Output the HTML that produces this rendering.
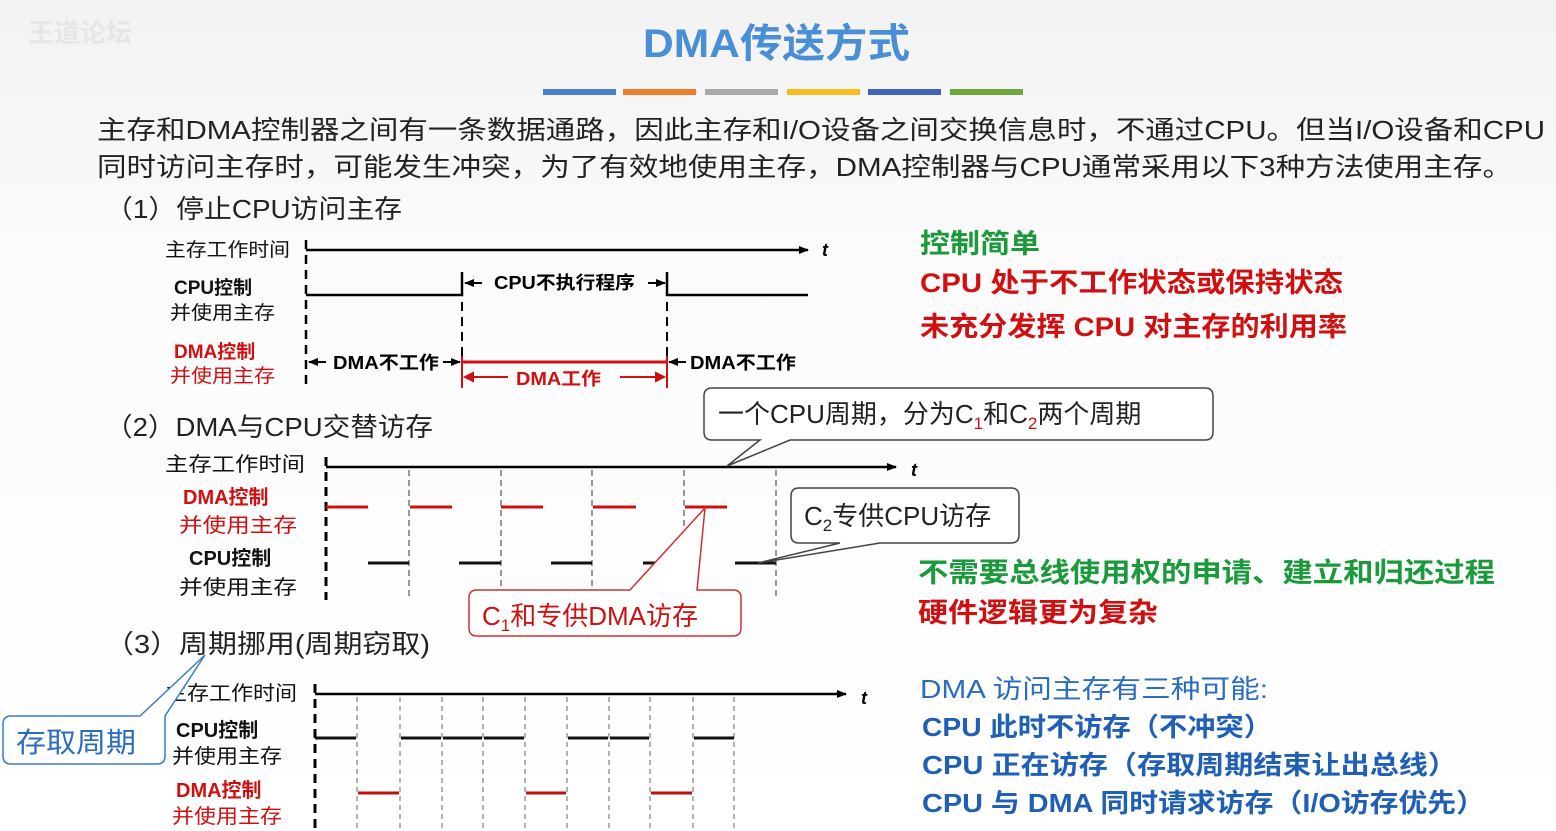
<!DOCTYPE html>
<html><head><meta charset="utf-8"><style>
html,body{margin:0;padding:0;background:#fff}
svg{display:block}
text{font-family:"Liberation Sans","Noto Sans CJK SC",sans-serif}
</style></head><body>
<svg width="1556" height="831" viewBox="0 0 1556 831" xmlns="http://www.w3.org/2000/svg">
<defs>
<linearGradient id="bg" x1="0" y1="0" x2="0" y2="1"><stop offset="0" stop-color="#f2f2f2"/><stop offset="0.3" stop-color="#fbfbfb"/><stop offset="1" stop-color="#ffffff"/></linearGradient>
<marker id="ar" markerWidth="10" markerHeight="8" refX="9" refY="4" orient="auto" markerUnits="userSpaceOnUse"><path d="M0,0 L10,4 L0,8 z" fill="#000"/></marker>
</defs>
<rect width="1556" height="831" fill="url(#bg)"/>
<text x="28" y="42" font-size="26" font-weight="bold" fill="#e6e6e6">王道论坛</text>
<text x="643" y="57" font-size="40" font-weight="bold" fill="#4a8fd6" textLength="267" lengthAdjust="spacingAndGlyphs">DMA传送方式</text>
<g>
<rect x="543" y="89" width="73" height="6" fill="#4a80c8"/>
<rect x="623" y="89" width="73" height="6" fill="#f07b28"/>
<rect x="705" y="89" width="73" height="6" fill="#a9a9a9"/>
<rect x="787" y="89" width="73" height="6" fill="#f5bd1f"/>
<rect x="868" y="89" width="73" height="6" fill="#3c64b8"/>
<rect x="950" y="89" width="73" height="6" fill="#6ca83c"/>
</g>
<text x="97" y="139" font-size="26" fill="#222" textLength="1448" lengthAdjust="spacingAndGlyphs">主存和DMA控制器之间有一条数据通路，因此主存和I/O设备之间交换信息时，不通过CPU。但当I/O设备和CPU</text>
<text x="97" y="176" font-size="26" fill="#222" textLength="1415" lengthAdjust="spacingAndGlyphs">同时访问主存时，可能发生冲突，为了有效地使用主存，DMA控制器与CPU通常采用以下3种方法使用主存。</text>
<text x="105" y="218" font-size="26" fill="#222" textLength="297" lengthAdjust="spacingAndGlyphs">（1）停止CPU访问主存</text>

<!-- diagram 1 -->
<g font-size="19" fill="#111">
<text x="165" y="256" textLength="125" lengthAdjust="spacingAndGlyphs">主存工作时间</text>
<text x="174" y="294" font-weight="bold">CPU控制</text>
<text x="170" y="319" textLength="105" lengthAdjust="spacingAndGlyphs">并使用主存</text>
<text x="174" y="358" font-weight="bold" fill="#d01010">DMA控制</text>
<text x="170" y="382" fill="#d01010" textLength="105" lengthAdjust="spacingAndGlyphs">并使用主存</text>
</g>
<line x1="306" y1="250" x2="808" y2="250" stroke="#000" stroke-width="2.5" marker-end="url(#ar)"/>
<text x="822" y="256" font-size="18" font-style="italic" font-weight="bold">t</text>
<line x1="306" y1="240" x2="306" y2="390" stroke="#000" stroke-width="2.5" stroke-dasharray="9,6"/>
<line x1="462" y1="272" x2="462" y2="390" stroke="#000" stroke-width="2" stroke-dasharray="9,6"/>
<line x1="667" y1="272" x2="667" y2="390" stroke="#000" stroke-width="2" stroke-dasharray="9,6"/>
<path d="M306,295 H462 V272 M667,272 V295 H808" fill="none" stroke="#000" stroke-width="2.5"/>
<line x1="482" y1="283" x2="465" y2="283" stroke="#000" stroke-width="2" marker-end="url(#ar)"/>
<line x1="648" y1="283" x2="665" y2="283" stroke="#000" stroke-width="2" marker-end="url(#ar)"/>
<text x="494" y="289" font-size="18" font-weight="bold" textLength="141" lengthAdjust="spacingAndGlyphs">CPU不执行程序</text>
<line x1="326" y1="362" x2="309" y2="362" stroke="#000" stroke-width="2" marker-end="url(#ar)"/>
<text x="333" y="369" font-size="18" font-weight="bold" textLength="106" lengthAdjust="spacingAndGlyphs">DMA不工作</text>
<line x1="443" y1="362" x2="460" y2="362" stroke="#000" stroke-width="2" marker-end="url(#ar)"/>
<line x1="686" y1="362" x2="669" y2="362" stroke="#000" stroke-width="2" marker-end="url(#ar)"/>
<text x="690" y="369" font-size="18" font-weight="bold" textLength="106" lengthAdjust="spacingAndGlyphs">DMA不工作</text>
<line x1="462" y1="362" x2="667" y2="362" stroke="#d01010" stroke-width="3"/>
<line x1="462" y1="356" x2="462" y2="388" stroke="#d01010" stroke-width="2"/>
<line x1="667" y1="356" x2="667" y2="388" stroke="#d01010" stroke-width="2"/>
<path d="M465,377 H508 M620,377 H664 M465,377 l8,-4 v8 z M664,377 l-8,-4 v8 z" stroke="#d01010" stroke-width="2" fill="#d01010"/>
<text x="516" y="385" font-size="18" font-weight="bold" fill="#d01010" textLength="85" lengthAdjust="spacingAndGlyphs">DMA工作</text>

<g font-size="27" font-weight="bold">
<text x="920" y="253" fill="#1a9a3a" textLength="120" lengthAdjust="spacingAndGlyphs">控制简单</text>
<text x="920" y="292" fill="#d01010" textLength="423" lengthAdjust="spacingAndGlyphs">CPU 处于不工作状态或保持状态</text>
<text x="920" y="336" fill="#d01010" textLength="427" lengthAdjust="spacingAndGlyphs">未充分发挥 CPU 对主存的利用率</text>
</g>

<!-- section 2 -->
<text x="105" y="436" font-size="26" fill="#222" textLength="328" lengthAdjust="spacingAndGlyphs">（2）DMA与CPU交替访存</text>
<g font-size="20" fill="#111">
<text x="165" y="471" textLength="140" lengthAdjust="spacingAndGlyphs">主存工作时间</text>
<text x="183" y="504" font-weight="bold" fill="#d01010">DMA控制</text>
<text x="179" y="532" fill="#d01010" textLength="118" lengthAdjust="spacingAndGlyphs">并使用主存</text>
<text x="189" y="565" font-weight="bold">CPU控制</text>
<text x="179" y="594" textLength="118" lengthAdjust="spacingAndGlyphs">并使用主存</text>
</g>
<line x1="326" y1="467" x2="896" y2="467" stroke="#000" stroke-width="2.5" marker-end="url(#ar)"/>
<text x="911" y="476" font-size="18" font-style="italic" font-weight="bold">t</text>
<line x1="326" y1="457" x2="326" y2="600" stroke="#000" stroke-width="3" stroke-dasharray="9,6"/>
<g stroke="#333" stroke-width="1" stroke-dasharray="6,4">
<line x1="409" y1="470" x2="409" y2="600"/><line x1="501" y1="470" x2="501" y2="600"/><line x1="592" y1="470" x2="592" y2="600"/><line x1="684" y1="470" x2="684" y2="600"/><line x1="776" y1="470" x2="776" y2="600"/>
</g>
<g stroke="#d01010" stroke-width="3">
<line x1="326" y1="507" x2="368" y2="507"/><line x1="410" y1="507" x2="452" y2="507"/><line x1="501" y1="507" x2="543" y2="507"/><line x1="593" y1="507" x2="636" y2="507"/><line x1="685" y1="507" x2="727" y2="507"/>
</g>
<g stroke="#111" stroke-width="3">
<line x1="368" y1="563" x2="409" y2="563"/><line x1="459" y1="563" x2="501" y2="563"/><line x1="551" y1="563" x2="592" y2="563"/><line x1="643" y1="563" x2="684" y2="563"/><line x1="735" y1="563" x2="776" y2="563"/>
</g>
<!-- callout 1 -->
<path d="M712,388 H1205 Q1213,388 1213,396 V432 Q1213,440 1205,440 H790 L727,466 L760,440 H712 Q704,440 704,432 V396 Q704,388 712,388 z" fill="#fff" stroke="#444" stroke-width="1.5"/>
<text x="718" y="423" font-size="26" fill="#222">一个CPU周期，分为C<tspan fill="#d01010" font-size="17" dy="6">1</tspan><tspan dy="-6">和C</tspan><tspan fill="#d01010" font-size="17" dy="6">2</tspan><tspan dy="-6">两个周期</tspan></text>
<!-- callout 2 -->
<path d="M799,488 H1011 Q1019,488 1019,496 V535 Q1019,543 1011,543 H880 L758,563 L840,543 H799 Q791,543 791,535 V496 Q791,488 799,488 z" fill="#fff" stroke="#444" stroke-width="1.5"/>
<text x="804" y="525" font-size="26" fill="#222">C<tspan font-size="17" dy="6">2</tspan><tspan dy="-6">专供CPU访存</tspan></text>
<!-- callout 3 -->
<path d="M477,590 H630 L705,508 L697,590 H733 Q741,590 741,598 V628 Q741,636 733,636 H477 Q469,636 469,628 V598 Q469,590 477,590 z" fill="#fff" stroke="#d03030" stroke-width="1.5"/>
<text x="482" y="625" font-size="26" fill="#d01010">C<tspan font-size="17" dy="6">1</tspan><tspan dy="-6">和专供DMA访存</tspan></text>

<g font-size="27" font-weight="bold">
<text x="918" y="582" fill="#1a9a3a" textLength="577" lengthAdjust="spacingAndGlyphs">不需要总线使用权的申请、建立和归还过程</text>
<text x="918" y="622" fill="#d01010" textLength="240" lengthAdjust="spacingAndGlyphs">硬件逻辑更为复杂</text>
</g>

<!-- section 3 -->
<text x="105" y="653" font-size="26" fill="#222" textLength="325" lengthAdjust="spacingAndGlyphs">（3）周期挪用(周期窃取)</text>
<g font-size="20" fill="#111">
<text x="165" y="700" textLength="132" lengthAdjust="spacingAndGlyphs">主存工作时间</text>
<text x="176" y="737" font-weight="bold">CPU控制</text>
<text x="172" y="763" textLength="110" lengthAdjust="spacingAndGlyphs">并使用主存</text>
<text x="176" y="797" font-weight="bold" fill="#d01010">DMA控制</text>
<text x="172" y="823" fill="#d01010" textLength="110" lengthAdjust="spacingAndGlyphs">并使用主存</text>
</g>
<line x1="315" y1="694" x2="846" y2="694" stroke="#000" stroke-width="2.5" marker-end="url(#ar)"/>
<text x="861" y="704" font-size="18" font-style="italic" font-weight="bold">t</text>
<line x1="315" y1="684" x2="315" y2="828" stroke="#000" stroke-width="3" stroke-dasharray="9,6"/>
<g stroke="#666" stroke-width="1" stroke-dasharray="5,4">
<line x1="357" y1="697" x2="357" y2="828"/><line x1="400" y1="697" x2="400" y2="828"/><line x1="442" y1="697" x2="442" y2="828"/><line x1="483" y1="697" x2="483" y2="828"/><line x1="525" y1="697" x2="525" y2="828"/><line x1="567" y1="697" x2="567" y2="828"/><line x1="609" y1="697" x2="609" y2="828"/><line x1="650" y1="697" x2="650" y2="828"/><line x1="693" y1="697" x2="693" y2="828"/><line x1="734" y1="697" x2="734" y2="828"/>
</g>
<g stroke="#111" stroke-width="3">
<line x1="315" y1="738" x2="356" y2="738"/><line x1="401" y1="738" x2="441" y2="738"/><line x1="443" y1="738" x2="482" y2="738"/><line x1="484" y1="738" x2="524" y2="738"/><line x1="568" y1="738" x2="608" y2="738"/><line x1="610" y1="738" x2="649" y2="738"/><line x1="694" y1="738" x2="734" y2="738"/>
</g>
<g stroke="#c01010" stroke-width="3">
<line x1="358" y1="793" x2="399" y2="793"/><line x1="526" y1="793" x2="566" y2="793"/><line x1="651" y1="793" x2="692" y2="793"/>
</g>
<!-- callout 存取周期 -->
<path d="M11,716 H140 L205,655 L165,716 V756 Q165,764 157,764 H11 Q3,764 3,756 V724 Q3,716 11,716 z" fill="#fff" stroke="#3a7cc8" stroke-width="1.5"/>
<text x="16" y="752" font-size="28" fill="#2a6cc0" textLength="120" lengthAdjust="spacingAndGlyphs">存取周期</text>

<text x="920" y="698" font-size="26" fill="#2a6cc0" textLength="348" lengthAdjust="spacingAndGlyphs">DMA 访问主存有三种可能:</text>
<g font-size="26" font-weight="bold" fill="#1f5fb5">
<text x="922" y="736" textLength="350" lengthAdjust="spacingAndGlyphs">CPU 此时不访存（不冲突）</text>
<text x="922" y="774" textLength="535" lengthAdjust="spacingAndGlyphs">CPU 正在访存（存取周期结束让出总线）</text>
<text x="922" y="812" textLength="563" lengthAdjust="spacingAndGlyphs">CPU 与 DMA 同时请求访存（I/O访存优先）</text>
</g>
</svg>
</body></html>
